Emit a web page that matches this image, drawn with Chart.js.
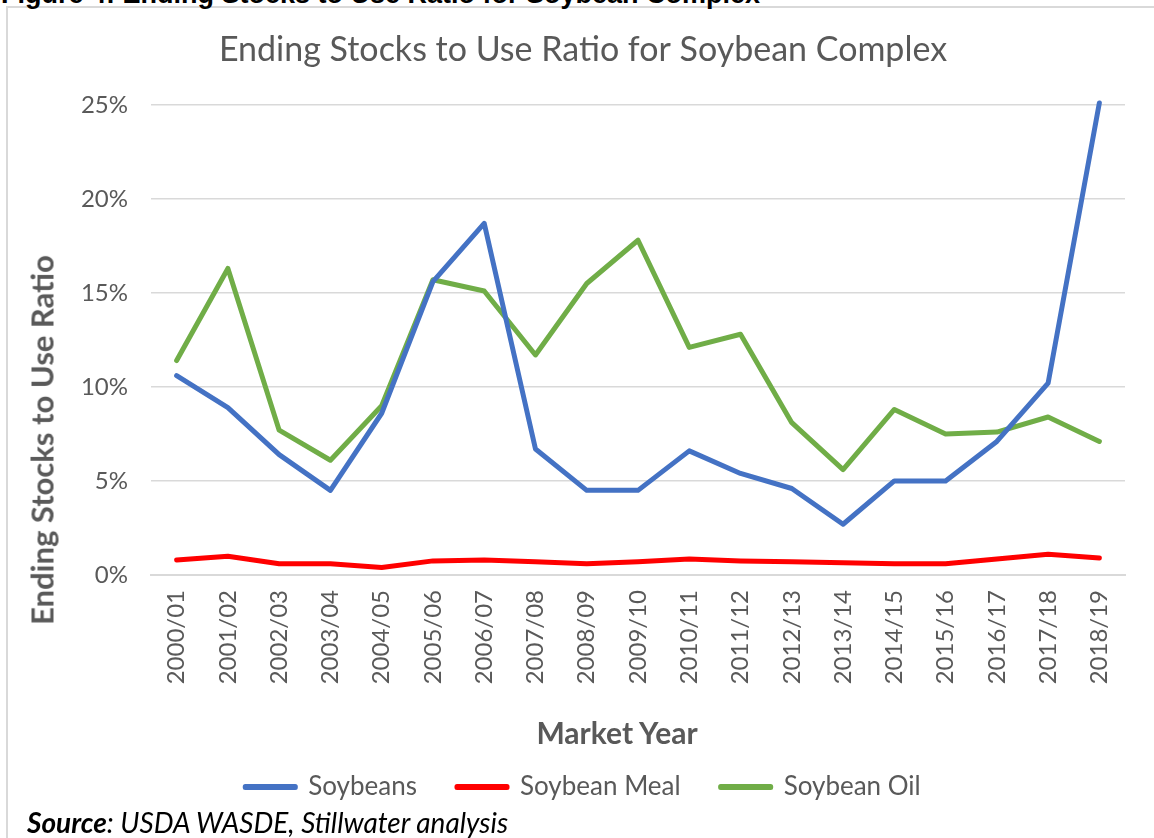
<!DOCTYPE html>
<html lang="en">
<head>
  <meta charset="UTF-8">
  <title>Ending Stocks to Use Ratio for Soybean Complex</title>
  <script src="https://cdn.jsdelivr.net/npm/chart.js"></script>
  <style>
    html, body { margin: 0; padding: 0; background: #fff; overflow: hidden; }
    body { width: 1154px; height: 838px; position: relative; font-family: Lato, "Liberation Sans", sans-serif; }
    #frame { position: absolute; left: 6px; top: 6px; width: 1160px; height: 840px; border: 2px solid #d9d9d9; }
    #caption { position: absolute; left: 1px; top: -21px; font: bold 27px "Liberation Sans", Arial, sans-serif; color: #000; white-space: nowrap; }
    #source { position: absolute; left: 27px; top: 805px; font: italic 28px Lato, sans-serif; color: #000; white-space: nowrap; }
    #wrap { position: absolute; left: 0; top: 0; width: 1154px; height: 838px; }
    .axis-title { position: absolute; font: bold 31px Lato, sans-serif; color: #595959; white-space: nowrap; line-height: 1; transform: translate(-50%, -50%); }
    #ytitle { left: 42px; top: 440px; transform: translate(-50%, -50%) rotate(-90deg); }
    #xtitle { left: 617px; top: 732px; font-size: 30px; }
  </style>
</head>
<body>
  <div id="frame"></div>
  <div id="caption">Figure 4: Ending Stocks to Use Ratio for Soybean Complex</div>
  <div id="wrap"><canvas id="chart" width="1154" height="838"></canvas></div>
  <div class="axis-title" id="ytitle">Ending Stocks to Use Ratio</div>
  <div class="axis-title" id="xtitle">Market Year</div>
  <div id="source"><b>Source</b>: USDA WASDE, Stillwater analysis</div>

  <script>
    // Market years
    const years = ['2000/01', '2001/02', '2002/03', '2003/04', '2004/05', '2005/06', '2006/07',
      '2007/08', '2008/09', '2009/10', '2010/11', '2011/12', '2012/13', '2013/14',
      '2014/15', '2015/16', '2016/17', '2017/18', '2018/19'];

    // Ending stocks to use ratio, percent
    const soybeans = [10.6, 8.9, 6.4, 4.5, 8.6, 15.6, 18.7, 6.7, 4.5, 4.5, 6.6, 5.4, 4.6, 2.7, 5.0, 5.0, 7.1, 10.2, 25.1];
    const soybeanMeal = [0.8, 1.0, 0.6, 0.6, 0.4, 0.75, 0.8, 0.7, 0.6, 0.7, 0.85, 0.75, 0.7, 0.65, 0.6, 0.6, 0.85, 1.1, 0.9];
    const soybeanOil = [11.4, 16.3, 7.7, 6.1, 9.0, 15.7, 15.1, 11.7, 15.5, 17.8, 12.1, 12.8, 8.1, 5.6, 8.8, 7.5, 7.6, 8.4, 7.1];

    // Y axis ticks
    const yTicks = [0, 5, 10, 15, 20, 25];

    const grey = '#595959';
    const font = 'Lato, "Liberation Sans", sans-serif';

    const ctx = document.getElementById('chart').getContext('2d');
    new Chart(ctx, {
      type: 'line',
      data: {
        labels: years,
        datasets: [
          { label: 'Soybeans', data: soybeans, borderColor: '#4472C4', backgroundColor: '#4472C4' },
          { label: 'Soybean Meal', data: soybeanMeal, borderColor: '#FF0000', backgroundColor: '#FF0000' },
          { label: 'Soybean Oil', data: soybeanOil, borderColor: '#70AD47', backgroundColor: '#70AD47' }
        ]
      },
      options: {
        responsive: false,
        animation: false,
        clip: false,
        datasets: {
          line: { borderWidth: 5, pointRadius: 0, tension: 0, borderCapStyle: 'round', borderJoinStyle: 'round' }
        },
        // left padding chosen so title and legend centre where the original does
        layout: { padding: { left: 41, right: 29, top: 0, bottom: 28 } },
        plugins: {
          title: {
            display: true,
            text: 'Ending Stocks to Use Ratio for Soybean Complex',
            color: grey,
            font: { family: font, size: 34, weight: 'normal' },
            padding: { top: 30, bottom: 34 }
          },
          legend: {
            position: 'bottom',
            labels: {
              color: grey,
              font: { family: font, size: 26 },
              boxWidth: 50,
              boxHeight: 1,
              padding: 40
            }
          },
          tooltip: { enabled: false }
        },
        scales: {
          x: {
            offset: true,
            grid: { display: false, drawTicks: false },
            border: { color: '#d9d9d9', width: 2 },
            ticks: {
              color: grey,
              font: { family: font, size: 24 },
              maxRotation: 90,
              minRotation: 90,
              padding: 15,
              autoSkip: false
            },
            afterFit: function (scale) { scale.height = 159; }
          },
          y: {
            min: 0,
            max: 25,
            afterBuildTicks: function (scale) { scale.ticks = yTicks.map(v => ({ value: v })); },
            grid: { color: '#d9d9d9', lineWidth: 1.5, drawTicks: false },
            border: { display: false },
            ticks: {
              color: grey,
              font: { family: font, size: 24 },
              padding: 23,
              callback: v => v + '%'
            },
            afterFit: function (scale) { scale.width = 110; }
          }
        }
      }
    });
  </script>
</body>
</html>
